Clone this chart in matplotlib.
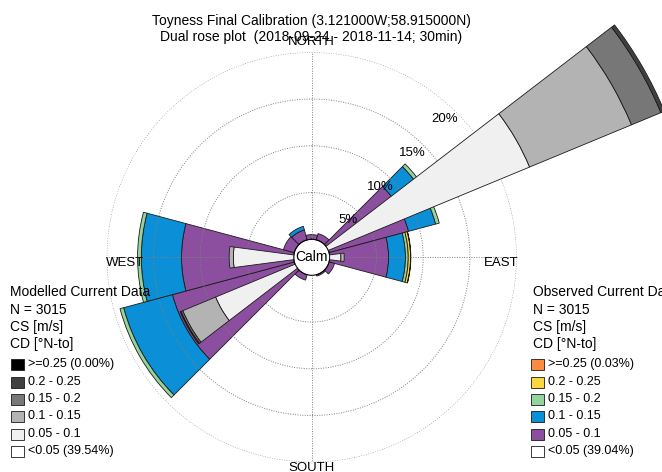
import numpy as np
import matplotlib
matplotlib.use("Agg")
import matplotlib.pyplot as plt
from matplotlib.patches import Rectangle

plt.rcParams['font.family'] = ['Liberation Sans', 'DejaVu Sans']

# direction bins (deg, N-to, clockwise)
directions = [0, 30, 60, 90, 120, 150, 180, 210, 240, 270, 300, 330]
speed_classes = ['0.05 - 0.1', '0.1 - 0.15', '0.15 - 0.2', '0.2 - 0.25', '>=0.25']

# observed frequencies (%) per direction, one list per speed class
obs_005 = [0.5, 0.7, 8.8, 6.3, 0.6, 0.15, 0.0, 0.6, 13.5, 12.0, 1.2, 1.1]
obs_010 = [0.0, 0.0, 3.0, 1.8, 0.0, 0.0, 0.0, 0.0, 5.4, 4.3, 0.0, 0.4]
obs_015 = [0.0, 0.0, 0.4, 0.3, 0.0, 0.0, 0.0, 0.0, 0.4, 0.4, 0.0, 0.0]
obs_020 = [0.0, 0.0, 0.0, 0.25, 0.0, 0.0, 0.0, 0.0, 0.0, 0.0, 0.0, 0.0]
obs_025 = [0.0, 0.0, 0.0, 0.03, 0.0, 0.0, 0.0, 0.0, 0.0, 0.0, 0.0, 0.0]

# modelled frequencies (%)
mod_005 = [0.0, 0.0, 23.3, 1.2, 0.0, 0.0, 0.0, 0.0, 9.2, 6.45, 0.0, 0.0]
mod_010 = [0.0, 0.0, 11.8, 0.35, 0.0, 0.0, 0.0, 0.0, 3.8, 0.45, 0.0, 0.0]
mod_015 = [0.0, 0.0, 3.4, 0.0, 0.0, 0.0, 0.0, 0.0, 0.2, 0.0, 0.0, 0.0]
mod_020 = [0.0, 0.0, 0.4, 0.0, 0.0, 0.0, 0.0, 0.0, 0.1, 0.0, 0.0, 0.0]
mod_025 = [0.0] * 12

obs_colors = ['#8c4e9e', '#0b8fd6', '#93d49c', '#fbd640', '#ff8a42']
mod_colors = ['#f0f0f0', '#b3b3b3', '#777777', '#404040', '#000000']

legend_labels = ['>=0.25 ({})', '0.2 - 0.25', '0.15 - 0.2', '0.1 - 0.15', '0.05 - 0.1', '<0.05 ({})']
mod_calm, mod_top = '39.54%', '0.00%'
obs_calm, obs_top = '39.04%', '0.03%'
n_records = 3015

title1 = 'Toyness Final Calibration (3.121000W;58.915000N)'
title2 = 'Dual rose plot  (2018-09-24 - 2018-11-14; 30min)'

W, H = 662, 472
fig = plt.figure(figsize=(W / 100, H / 100), dpi=100)

def fx(x):
    return x / W

def fy(y):
    return 1 - y / H

# polar axes: centre (311.7, 257.3) px, 20% circle radius 205 px
cx, cy, R = 311.7, 257.3, 205
ax = fig.add_axes([fx(cx - R), fy(cy + R), 2 * R / W, 2 * R / H], projection='polar')
ax.set_theta_zero_location('N')
ax.set_theta_direction(-1)
ax.set_rorigin(-1.925)
ax.set_ylim(0, 20)
ax.set_rgrids([5, 10, 15, 20], labels=['', '', '', ''])
ax.set_thetagrids([0, 90, 180, 270], labels=['', '', '', ''])
ax.grid(True, linestyle=(0, (1, 1.5)), color='0.5', linewidth=0.7)
ax.spines['polar'].set_visible(False)
ax.set_axisbelow(False)
ax.patch.set_alpha(0)

theta = np.deg2rad(directions)

def stack(series, colors, width, z):
    bottom = np.zeros(len(directions))
    for vals, col in zip(series, colors):
        vals = np.array(vals)
        m = vals > 0
        ax.bar(theta[m], vals[m], width=np.deg2rad(width), bottom=bottom[m],
               color=col, edgecolor='#1a1a1a', linewidth=0.6, zorder=z,
               clip_on=False, align='center')
        bottom = bottom + vals

stack([obs_005, obs_010, obs_015, obs_020, obs_025], obs_colors, 30, 1)
stack([mod_005, mod_010, mod_015, mod_020, mod_025], mod_colors, 15, 3)

for pct in [5, 10, 15, 20]:
    ax.text(np.deg2rad(44), pct - 1.4, f'{pct}%', ha='center', va='center',
            fontsize=9.5, zorder=5)

ax.text(0.5, 0.5, 'Calm', transform=ax.transAxes, ha='center', va='center',
        fontsize=10, zorder=6)
ax.text(0, 21.1, 'NORTH', ha='center', va='center', fontsize=9.5, clip_on=False)
ax.text(np.pi, 20.6, 'SOUTH', ha='center', va='center', fontsize=9.5, clip_on=False)
ax.text(np.deg2rad(270), 18.0, 'WEST', ha='center', va='top', fontsize=9.5)
ax.text(np.deg2rad(90), 18.3, 'EAST', ha='center', va='top', fontsize=9.5)

fig.text(fx(311), fy(20.5), title1, ha='center', va='center', fontsize=10)
fig.text(fx(311), fy(37.5), title2, ha='center', va='center', fontsize=10)

# legends
head_y = [292, 310, 327, 344]
entry_y = [364, 382, 399, 416, 434, 451]

def draw_legend(x_head, x_box, x_txt, name, colors, top, calm):
    heads = [name, f'N = {n_records}', 'CS [m/s]', 'CD [\u00b0N-to]']
    for y, t in zip(head_y, heads):
        fig.text(fx(x_head), fy(y), t, ha='left', va='center', fontsize=10)
    cols = list(reversed(colors)) + ['#ffffff']
    for y, lab, col in zip(entry_y, legend_labels, cols):
        if lab.startswith('>='):
            lab = lab.format(top)
        elif lab.startswith('<'):
            lab = lab.format(calm)
        fig.add_artist(Rectangle((fx(x_box), fy(y + 5.5)), 13 / W, 11 / H,
                                 transform=fig.transFigure, facecolor=col,
                                 edgecolor='#1a1a1a', linewidth=0.6))
        fig.text(fx(x_txt), fy(y), lab, ha='left', va='center', fontsize=9)

draw_legend(10, 11, 28, 'Modelled Current Data', mod_colors, mod_top, mod_calm)
draw_legend(533, 531, 548, 'Observed Current Data', obs_colors, obs_top, obs_calm)

fig.savefig('out.png', dpi=100)
